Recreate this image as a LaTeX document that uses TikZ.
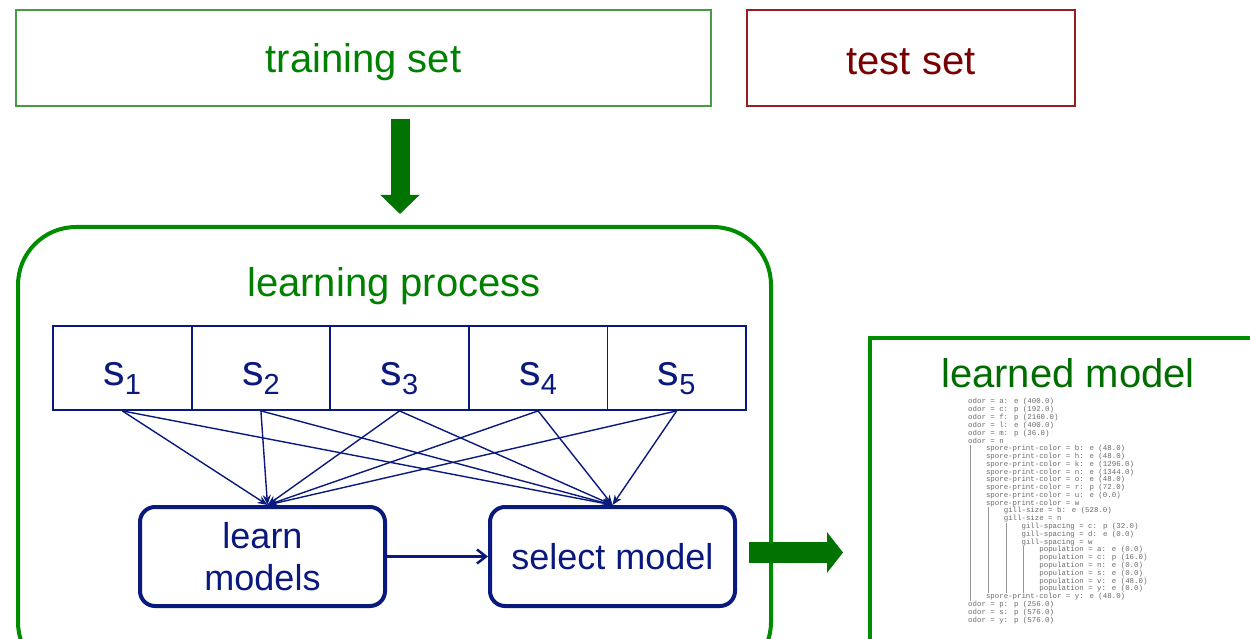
\documentclass[tikz,border=0pt]{standalone}
\usepackage{fontspec}
\setmainfont{Liberation Sans}
\newfontfamily\treemono{Liberation Mono}
\usetikzlibrary{arrows.meta}
\definecolor{gtext}{RGB}{0,128,0}
\definecolor{gline}{RGB}{70,155,70}
\definecolor{gbox}{RGB}{0,140,0}
\definecolor{garrow}{RGB}{0,115,0}
\definecolor{rline}{RGB}{150,30,30}
\definecolor{rtext}{RGB}{120,0,0}
\definecolor{navy}{RGB}{10,25,125}
\definecolor{treegray}{RGB}{105,105,105}
\tikzset{
  big/.style={font=\fontsize{40}{44}\selectfont},
  setbox/.style={draw, line width=1.4pt, minimum width=695pt, minimum height=96pt, inner sep=0pt},
  cell/.style={draw=navy, line width=1.8pt, minimum width=138.6pt, minimum height=84pt, inner sep=0pt, text=navy, font=\fontsize{43}{44}\selectfont},
  procbox/.style={draw=navy, line width=4pt, rounded corners=15pt, minimum width=245pt, minimum height=99pt, inner sep=0pt, text=navy, align=center, font=\fontsize{36}{42}\selectfont},
  thin/.style={draw=navy, line width=1.4pt, -{Stealth[length=10pt,width=8pt]}},
  bigarrow/.style={draw=garrow, line width=19pt},
  tree/.style={anchor=west, inner sep=0pt, text=treegray, font=\treemono\fontsize{7.4}{7.8}\selectfont},
  treebar/.style={draw=treegray!70, line width=0.8pt}
}
\newcommand{\sub}[1]{\raisebox{-17pt}[0pt][0pt]{s\raisebox{-0.22em}{\fontsize{29}{29}\selectfont #1}}}
\begin{document}
\begin{tikzpicture}[x=1pt,y=-1pt]
\useasboundingbox (0,0) rectangle (1250,639);
\clip (0,0) rectangle (1250,639);
% top boxes
\node[setbox, draw=gline, minimum width=695pt] (train) at (363.5,58) {};
\node[text=gtext, big] (traintxt) at (363.5,62) {training set};
\node[setbox, draw=rline, minimum width=328pt] (test) at (911,58) {};
\node[text=rtext, big] (testtxt) at (911,62) {test set};
% learning process container
\node[draw=gbox, line width=4pt, rounded corners=58pt, minimum width=753pt, minimum height=453pt, inner sep=0pt] (lp) at (394.5,453.5) {};
\node[text=gtext, big] (lptitle) at (394,286) {learning process};
% cells
\foreach \i in {1,...,5} {
  \node[cell] (s\i) at ({53+138.6*(\i-0.5)},368) {\sub{\i}};
}
% process boxes
\node[procbox] (learn) at (262.5,556.5) {learn\\[0pt]models};
\node[procbox] (select) at (612.5,556.5) {select model};
% connectors from cells
\foreach \i in {1,...,5} {
  \draw[thin] (s\i.south) -- ([xshift=5pt]learn.north);
  \draw[thin] (s\i.south) -- (select.north);
}
\draw[navy, line width=2.5pt, -{Straight Barb[length=9pt,width=14pt,line width=2.5pt]}] (learn.east) -- (select.west);
% learned model
\node[draw=gbox, line width=4pt, minimum width=440pt, minimum height=360pt, inner sep=0pt, anchor=north west] (lm) at (868,336) {};
\node[text=gtext!85!black, big] (lmtitle) at (1068,373) {learned model};
% block arrows
\draw[bigarrow, -{Triangle[length=19pt,width=38pt]}] ([xshift=36.5pt,yshift=-12pt]train.south) -- ([xshift=5.5pt,yshift=11pt]lp.north);
\draw[bigarrow, line width=21pt, -{Triangle[length=16pt,width=40pt]}] ([xshift=12pt,yshift=4pt]select.east) -- ([xshift=-25pt,yshift=4pt]select.east -| lm.west);
% tree text
\foreach \lev/\txt [count=\i] in {
0/odor = a: e (400.0),
0/odor = c: p (192.0),
0/odor = f: p (2160.0),
0/odor = l: e (400.0),
0/odor = m: p (36.0),
0/odor = n,
1/spore-print-color = b: e (48.0),
1/spore-print-color = h: e (48.0),
1/spore-print-color = k: e (1296.0),
1/spore-print-color = n: e (1344.0),
1/spore-print-color = o: e (48.0),
1/spore-print-color = r: p (72.0),
1/spore-print-color = u: e (0.0),
1/spore-print-color = w,
2/gill-size = b: e (528.0),
2/gill-size = n,
3/gill-spacing = c: p (32.0),
3/gill-spacing = d: e (0.0),
3/gill-spacing = w,
4/population = a: e (0.0),
4/population = c: p (16.0),
4/population = n: e (0.0),
4/population = s: e (0.0),
4/population = v: e (48.0),
4/population = y: e (0.0),
1/spore-print-color = y: e (48.0),
0/odor = p: p (256.0),
0/odor = s: p (576.0),
0/odor = y: p (576.0)} {
  \node[tree] (t\i) at ({968+\lev*17.8},{402+(\i-1)*7.79}) {\txt};
}
% tree bars
\draw[treebar] (970,{402+5*7.79+4}) -- (970,{402+25*7.79+4});
\draw[treebar] (988,{402+13*7.79+4}) -- (988,{402+24*7.79+4});
\draw[treebar] (1006,{402+15*7.79+4}) -- (1006,{402+24*7.79+4});
\draw[treebar] (1023.5,{402+18*7.79+4}) -- (1023.5,{402+24*7.79+4});
\end{tikzpicture}
\end{document}
